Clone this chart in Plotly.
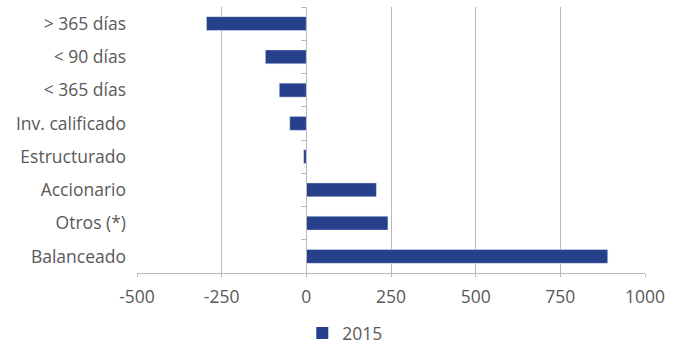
import plotly.graph_objects as go

# Categories listed top to bottom
categories = ["> 365 días", "< 90 días", "< 365 días", "Inv. calificado",
              "Estructurado", "Accionario", "Otros (*)", "Balanceado"]
values_2015 = [-295, -121, -80, -49, -8, 207, 241, 890]
x_ticks = [-500, -250, 0, 250, 500, 750, 1000]

BAR = "#26408B"
GRID = "#B8B8B8"
TEXT = "#595959"
FONT = "Open Sans"

fig = go.Figure()

fig.add_trace(go.Bar(
    x=values_2015, y=categories, orientation="h", name="2015",
    marker=dict(color=BAR, line=dict(width=0)),
    xaxis="x", yaxis="y",
))

# Transparent copy on a second y axis: draws the category axis at x = 0
fig.add_trace(go.Bar(
    x=values_2015, y=categories, orientation="h", name="2015",
    marker=dict(color="rgba(0,0,0,0)"), showlegend=False, hoverinfo="skip",
    xaxis="x", yaxis="y2",
))

fig.update_layout(
    width=676, height=346,
    margin=dict(l=137, r=31, t=7, b=73, autoexpand=False),
    paper_bgcolor="white", plot_bgcolor="white",
    font=dict(family=FONT, size=17.5, color=TEXT),
    bargap=0.58,
    showlegend=True,
    legend=dict(orientation="h", x=0.41, y=-0.226, xanchor="center",
                yanchor="middle", font=dict(size=17.5, color=TEXT),
                bgcolor="rgba(0,0,0,0)"),
    xaxis=dict(
        range=[-500, 1000], tickvals=x_ticks,
        ticktext=[str(v) for v in x_ticks],
        showgrid=True, gridcolor=GRID, gridwidth=1,
        zeroline=False,
        showline=True, linecolor=GRID, linewidth=1,
        ticks="outside", ticklen=3, tickcolor=GRID,
        ticklabelstandoff=5,
        fixedrange=True,
    ),
    yaxis=dict(
        type="category", categoryorder="array", categoryarray=categories,
        autorange="reversed",
        showgrid=False, zeroline=False, showline=False, ticks="",
        ticklabelstandoff=10,
    ),
    yaxis2=dict(
        type="category", categoryorder="array", categoryarray=categories,
        autorange="reversed",
        overlaying="y", anchor="free", position=1 / 3, side="left",
        showgrid=False, zeroline=False,
        showline=True, linecolor=GRID, linewidth=1,
        ticks="outside", tickson="boundaries", ticklen=5, tickcolor=GRID,
        showticklabels=False,
    ),
)

fig.write_html("out.html")
